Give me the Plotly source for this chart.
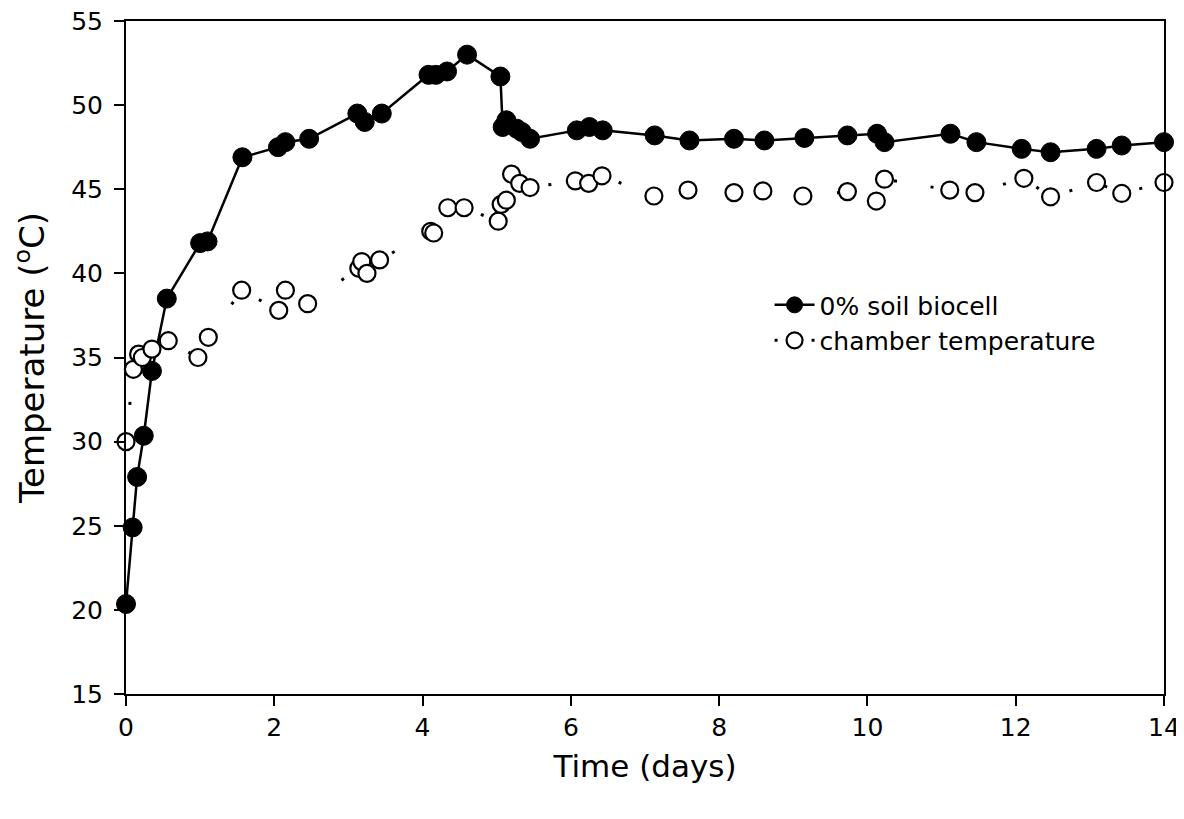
import plotly.graph_objects as go

# 0% soil biocell (filled circles, solid line)
bio_x = [0.0, 0.09, 0.15, 0.24, 0.35, 0.55, 1.0, 1.1, 1.57, 2.05, 2.15, 2.47,
         3.12, 3.22, 3.45, 4.08, 4.18, 4.33, 4.6, 5.05, 5.08, 5.13, 5.27, 5.34, 5.45,
         6.08, 6.25, 6.43, 7.13, 7.6, 8.2, 8.61, 9.15, 9.73, 10.13, 10.23,
         11.12, 11.47, 12.08, 12.47, 13.09, 13.43, 14.0]
bio_y = [20.35, 24.9, 27.9, 30.35, 34.2, 38.5, 41.8, 41.9, 46.9, 47.5, 47.8, 48.0,
         49.5, 49.0, 49.5, 51.8, 51.8, 52.0, 53.0, 51.7, 48.7, 49.1, 48.6, 48.4, 48.0,
         48.5, 48.7, 48.5, 48.2, 47.9, 48.0, 47.9, 48.05, 48.2, 48.3, 47.8,
         48.3, 47.8, 47.4, 47.2, 47.4, 47.6, 47.8]

# chamber temperature (open circles, dotted line)
ch_x = [0.0, 0.1, 0.17, 0.22, 0.35, 0.57, 0.97, 1.11, 1.56, 2.06, 2.15, 2.45,
        3.14, 3.18, 3.25, 3.42, 4.11, 4.15, 4.34, 4.56, 5.02, 5.06, 5.13, 5.2,
        5.31, 5.45, 6.06, 6.24, 6.42, 7.12, 7.58, 8.2, 8.59, 9.13, 9.73, 10.12,
        10.23, 11.11, 11.45, 12.11, 12.47, 13.09, 13.43, 14.0]
ch_y = [30.0, 34.3, 35.2, 35.0, 35.5, 36.0, 35.0, 36.2, 39.0, 37.8, 39.0, 38.2,
        40.3, 40.7, 40.0, 40.8, 42.5, 42.4, 43.9, 43.9, 43.1, 44.1, 44.35, 45.9,
        45.35, 45.1, 45.5, 45.35, 45.8, 44.6, 44.95, 44.8, 44.9, 44.6, 44.86, 44.3,
        45.6, 44.95, 44.8, 45.65, 44.55, 45.4, 44.75, 45.4]

x_ticks = [0, 2, 4, 6, 8, 10, 12, 14]
y_ticks = [15, 20, 25, 30, 35, 40, 45, 50, 55]

FONT = "DejaVu Sans, Arial, sans-serif"

fig = go.Figure()
fig.add_trace(go.Scatter(
    x=bio_x, y=bio_y, mode="lines+markers", name="0% soil biocell",
    line=dict(color="black", width=2.5),
    marker=dict(symbol="circle", size=19, color="black",
                line=dict(color="black", width=1)),
    cliponaxis=False,
))
fig.add_trace(go.Scatter(
    x=ch_x, y=ch_y, mode="lines+markers", name="chamber temperature",
    line=dict(color="black", width=3, dash="3px,34px"),
    marker=dict(symbol="circle", size=17, color="white",
                line=dict(color="black", width=2.2)),
    cliponaxis=False,
))

axis_common = dict(
    showline=True, linecolor="black", linewidth=2, mirror=True,
    ticks="outside", ticklen=10, tickwidth=2, tickcolor="black",
    showgrid=False, zeroline=False, automargin=False,
    ticklabeloverflow="allow",
    tickfont=dict(family=FONT, size=25, color="black"),
)

fig.update_layout(
    width=1176, height=811,
    margin=dict(l=118, r=20, t=13, b=125),
    paper_bgcolor="white", plot_bgcolor="white",
    font=dict(family=FONT, color="black"),
    xaxis=dict(range=[0, 14], tickvals=x_ticks, ticktext=[str(v) for v in x_ticks],
               ticklabelstandoff=0,
               title=dict(text="Time (days)", font=dict(family=FONT, size=31), standoff=14),
               **axis_common),
    yaxis=dict(range=[15, 55], tickvals=y_ticks, ticktext=[str(v) for v in y_ticks],
               ticklabelstandoff=6,
               title=dict(text="Temperature (<sup>o</sup>C)", font=dict(family=FONT, size=34), standoff=16),
               **axis_common),
    legend=dict(x=0.62, y=0.612, xanchor="left", yanchor="top",
                bgcolor="rgba(0,0,0,0)", borderwidth=0,
                font=dict(family=FONT, size=25, color="black"),
                tracegroupgap=0, itemwidth=40),
    showlegend=True,
)

fig.write_html("out.html")
